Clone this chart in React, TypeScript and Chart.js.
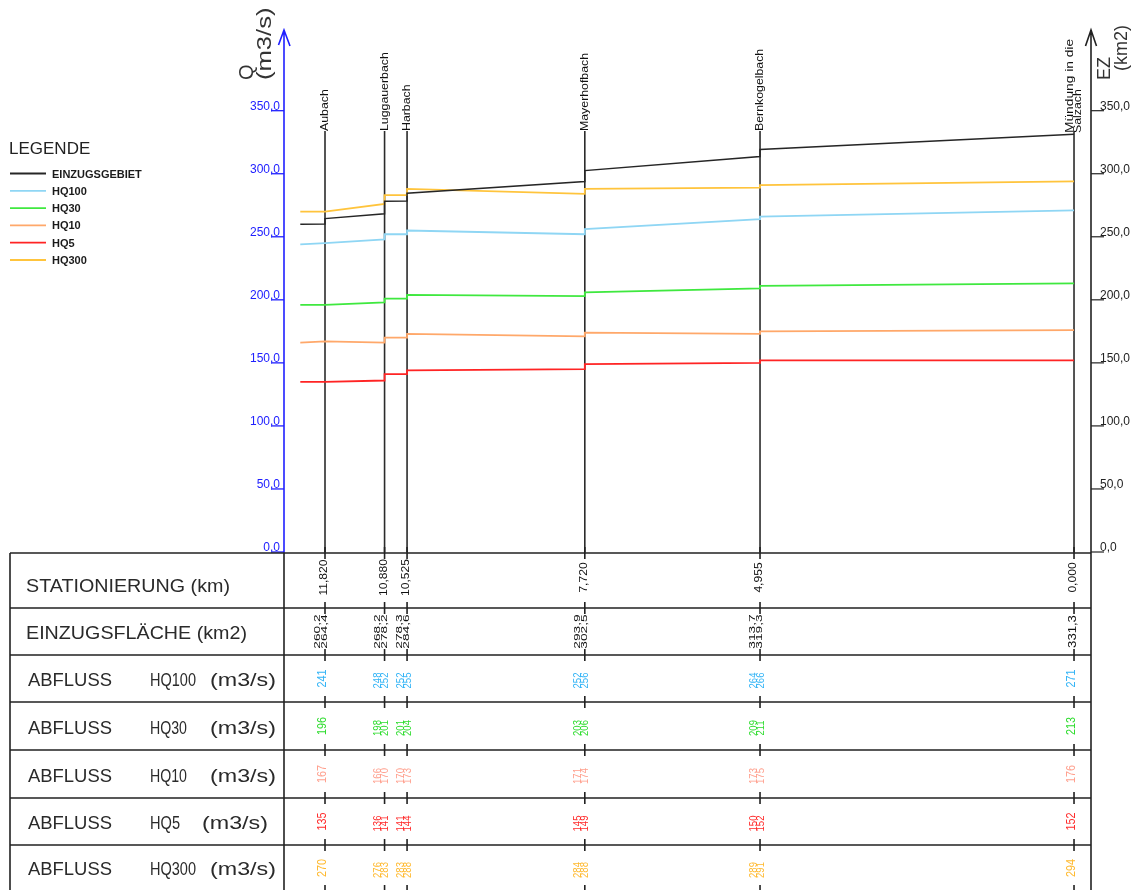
import React, { useEffect, useRef } from "react";
import { Chart, registerables } from "chart.js";

Chart.register(...registerables);

// ---------------- DATA ----------------
const stationNames: string[][] = [
  ["Aubach"],
  ["Luggauerbach"],
  ["Harbach"],
  ["Mayerhofbach"],
  ["Bernkogelbach"],
  ["Mündung in die", "Salzach"],
];
const stationKm = [11.82, 10.88, 10.525, 7.72, 4.955, 0.0];
const stationKmLabels = ["11,820", "10,880", "10,525", "7,720", "4,955", "0,000"];

const areaLabels: string[][] = [
  ["260,2", "264,4"], ["268,2", "278,2"], ["278,3", "284,6"],
  ["293,9", "302,5"], ["313,7", "319,3"], ["331,3"],
];
const hq100Labels: string[][] = [["241"], ["248", "252"], ["252", "255"], ["252", "256"], ["264", "266"], ["271"]];
const hq30Labels: string[][] = [["196"], ["198", "201"], ["201", "204"], ["203", "206"], ["209", "211"], ["213"]];
const hq10Labels: string[][] = [["167"], ["166", "170"], ["170", "173"], ["171", "174"], ["173", "175"], ["176"]];
const hq5Labels: string[][] = [["135"], ["136", "141"], ["141", "144"], ["145", "149"], ["150", "152"], ["152"]];
const hq300Labels: string[][] = [["270"], ["276", "283"], ["283", "288"], ["284", "288"], ["289", "291"], ["294"]];

// line vertices (km along river, reversed axis)
const pathKm = [12.21, 11.82, 11.82, 10.88, 10.88, 10.525, 10.525, 7.72, 7.72, 4.955, 4.955, 0.0];
const ezValues = [260.0, 260.2, 264.4, 268.2, 278.2, 278.3, 284.6, 293.9, 302.5, 313.7, 319.3, 331.3];
const hq100Values = [244, 245, 245, 248, 252, 252, 255, 252, 256, 264, 266, 271];
const hq30Values = [196, 196, 196, 198, 201, 201, 204, 203, 206, 209, 211, 213];
const hq10Values = [166, 167, 167, 166, 170, 170, 173, 171, 174, 173, 175, 176];
const hq5Values = [135, 135, 135, 136, 141, 141, 144, 145, 149, 150, 152, 152];
const hq300Values = [270, 270, 270, 276, 283, 283, 288, 284, 288, 289, 291, 294];

const seriesNames = ["EINZUGSGEBIET", "HQ100", "HQ30", "HQ10", "HQ5", "HQ300"];
const yTicks = [0, 50, 100, 150, 200, 250, 300, 350];

const rowTitles: string[][] = [
  ["STATIONIERUNG (km)"],
  ["EINZUGSFLÄCHE (km2)"],
  ["ABFLUSS", "HQ100", "(m3/s)"],
  ["ABFLUSS", "HQ30", "(m3/s)"],
  ["ABFLUSS", "HQ10", "(m3/s)"],
  ["ABFLUSS", "HQ5", "(m3/s)"],
  ["ABFLUSS", "HQ300", "(m3/s)"],
];
const leftTitle = ["Q", "(m3/s)"];
const rightTitle = ["EZ", "(km2)"];
const legendTitle = "LEGENDE";

// ---------------- STYLES ----------------
const lineColors = ["#262626", "#8fd6f4", "#3fe83f", "#ffa86a", "#ff2424", "#ffc43c"];
const labelColors = ["#111111", "#33b4f6", "#2edc2e", "#ffa08e", "#ff2a2a", "#ffb92e"];
const BLUE = "#2020ff";
const INK = "#222222";
const FONT = "'Liberation Sans', Arial, sans-serif";

function vText(ctx: CanvasRenderingContext2D, text: string, x: number, y: number, align: CanvasTextAlign, stretch: number) {
  ctx.save();
  ctx.translate(x, y);
  ctx.rotate(-Math.PI / 2);
  ctx.scale(stretch, 1);
  ctx.textAlign = align;
  ctx.textBaseline = "alphabetic";
  ctx.fillText(text, 0, 0);
  ctx.restore();
}

function fitText(ctx: CanvasRenderingContext2D, text: string, x: number, y: number, width: number, align: CanvasTextAlign = "left") {
  const w = ctx.measureText(text).width;
  ctx.save();
  ctx.translate(x, y);
  ctx.scale(width / w, 1);
  ctx.textAlign = align;
  ctx.fillText(text, 0, 0);
  ctx.restore();
}

const profilePlugin = {
  id: "profile",
  beforeDatasetsDraw(chart: any) {
    const ctx: CanvasRenderingContext2D = chart.ctx;
    const xs = chart.scales.x;
    const ys = chart.scales.y;
    ctx.save();
    ctx.strokeStyle = "#2b2b2b";
    ctx.lineWidth = 1.6;
    stationKm.forEach((km) => {
      const x = xs.getPixelForValue(km);
      ctx.beginPath();
      ctx.moveTo(x, 131);
      ctx.lineTo(x, ys.getPixelForValue(0));
      ctx.stroke();
    });
    ctx.restore();
  },
  afterDatasetsDraw(chart: any) {
    const ctx: CanvasRenderingContext2D = chart.ctx;
    const xs = chart.scales.x;
    const ys = chart.scales.y;
    const ys2 = chart.scales.y2;
    const area = chart.chartArea;
    const L = area.left;
    const R = area.right;
    ctx.save();

    // ---- left axis ----
    ctx.strokeStyle = BLUE;
    ctx.fillStyle = BLUE;
    ctx.lineWidth = 1.6;
    ctx.beginPath();
    ctx.moveTo(L, ys.getPixelForValue(0) + 1);
    ctx.lineTo(L, area.top);
    ctx.moveTo(L - 5.5, area.top + 15);
    ctx.lineTo(L, area.top);
    ctx.lineTo(L + 6, area.top + 16);
    ctx.stroke();
    ctx.font = `12px ${FONT}`;
    ctx.lineWidth = 1.3;
    yTicks.forEach((v) => {
      const y = ys.getPixelForValue(v);
      ctx.beginPath();
      ctx.moveTo(L - 13, y);
      ctx.lineTo(L, y);
      ctx.stroke();
      ctx.textAlign = "right";
      ctx.fillText(v.toFixed(1).replace(".", ","), L - 4, y - 1);
    });

    // ---- right axis ----
    ctx.strokeStyle = INK;
    ctx.fillStyle = INK;
    ctx.lineWidth = 1.6;
    ctx.beginPath();
    ctx.moveTo(R, chart.height);
    ctx.lineTo(R, area.top);
    ctx.moveTo(R - 5.5, area.top + 16);
    ctx.lineTo(R, area.top);
    ctx.lineTo(R + 5.5, area.top + 16);
    ctx.stroke();
    ctx.lineWidth = 1.2;
    yTicks.forEach((v) => {
      const y = ys2.getPixelForValue(v);
      ctx.beginPath();
      ctx.moveTo(R, y);
      ctx.lineTo(R + 13, y);
      ctx.stroke();
      ctx.textAlign = "left";
      ctx.fillText(v.toFixed(1).replace(".", ","), R + 9, y - 1);
    });

    // ---- axis titles ----
    ctx.fillStyle = "#333";
    ctx.font = `20px ${FONT}`;
    vText(ctx, leftTitle[0], L - 31, 80, "left", 1);
    vText(ctx, leftTitle[1], L - 13, 80, "left", 1.28);
    ctx.font = `18px ${FONT}`;
    vText(ctx, rightTitle[0], R + 19, 80, "left", 1);
    vText(ctx, rightTitle[1], R + 36, 71, "left", 1);

    // ---- station names ----
    ctx.fillStyle = "#111";
    ctx.font = `11px ${FONT}`;
    stationKm.forEach((km, i) => {
      const x = xs.getPixelForValue(km);
      const names = stationNames[i];
      if (names.length === 1) {
        vText(ctx, names[0], x + 3, 131, "left", 1.12);
      } else {
        vText(ctx, names[0], x - 1, 133, "left", 1.25);
        vText(ctx, names[1], x + 7, 133, "left", 1.12);
      }
    });

    // ---- legend ----
    ctx.fillStyle = "#222";
    ctx.font = `17px ${FONT}`;
    ctx.textAlign = "left";
    ctx.fillText(legendTitle, 9, 154);
    ctx.font = `bold 11px ${FONT}`;
    chart.data.datasets.forEach((ds: any, i: number) => {
      const y = 173.5 + i * 17.3;
      ctx.strokeStyle = ds.borderColor;
      ctx.lineWidth = 1.8;
      ctx.beginPath();
      ctx.moveTo(10, y);
      ctx.lineTo(46, y);
      ctx.stroke();
      ctx.fillStyle = "#1a1a1a";
      ctx.fillText(ds.label, 52, y + 4);
    });

    // ---- table ----
    const top = ys.getPixelForValue(0) + 1;
    const edges = [top, 608, 655, 702, 750, 798, 845, 891];
    ctx.strokeStyle = INK;
    ctx.lineWidth = 1.6;
    ctx.beginPath();
    for (let r = 0; r < edges.length - 1; r++) {
      ctx.moveTo(10, edges[r]);
      ctx.lineTo(R, edges[r]);
    }
    ctx.moveTo(10, top);
    ctx.lineTo(10, chart.height);
    ctx.moveTo(L, top);
    ctx.lineTo(L, chart.height);
    ctx.stroke();

    // ticks at station positions
    ctx.lineWidth = 1.6;
    ctx.beginPath();
    stationKm.forEach((km) => {
      const x = xs.getPixelForValue(km);
      edges.forEach((e) => {
        ctx.moveTo(x, e - 6);
        ctx.lineTo(x, e + 6);
      });
    });
    ctx.stroke();

    // row titles
    ctx.fillStyle = "#2a2a2a";
    ctx.font = `18px ${FONT}`;
    const partWidths: Record<string, number> = { ABFLUSS: 84, HQ100: 46, HQ300: 46, HQ30: 37, HQ10: 37, HQ5: 30, "(m3/s)": 66 };
    rowTitles.forEach((parts, r) => {
      const base = edges[r + 1] - 16;
      if (parts.length === 1) {
        fitText(ctx, parts[0], 26, base, r === 0 ? 204 : 221);
      } else {
        fitText(ctx, parts[0], 28, base, partWidths[parts[0]]);
        fitText(ctx, parts[1], 150, base, partWidths[parts[1]]);
        fitText(ctx, parts[2], parts[1] === "HQ5" ? 268 : 276, base, partWidths[parts[2]], "right");
      }
    });

    // row values
    const valueRows: string[][][] = [
      stationKmLabels.map((s) => [s]),
      areaLabels,
      hq100Labels,
      hq30Labels,
      hq10Labels,
      hq5Labels,
      hq300Labels,
    ];
    valueRows.forEach((row, r) => {
      const cy = (edges[r] + edges[r + 1]) / 2 + (r === 0 ? -3 : 0);
      ctx.fillStyle = r <= 1 ? "#111" : labelColors[r - 1];
      row.forEach((vals, i) => {
        const x = xs.getPixelForValue(stationKm[i]);
        if (vals.length === 1) {
          if (r === 0) {
            ctx.font = `10.5px ${FONT}`;
            vText(ctx, vals[0], x + 2, cy, "center", 1.15);
          } else if (r === 1) {
            ctx.font = `10.5px ${FONT}`;
            vText(ctx, vals[0], x + 2, cy, "center", 1.25);
          } else {
            ctx.font = `12px ${FONT}`;
            vText(ctx, vals[0], x + 1, cy, "center", 0.9);
          }
        } else {
          if (r === 1) {
            ctx.font = `9.5px ${FONT}`;
            vText(ctx, vals[0], x - 5, cy, "center", 1.45);
            vText(ctx, vals[1], x + 2, cy, "center", 1.45);
          } else {
            ctx.font = `10px ${FONT}`;
            vText(ctx, vals[0], x - 3.5, cy + 2, "center", 0.95);
            vText(ctx, vals[1], x + 3.5, cy + 2, "center", 0.95);
          }
        }
      });
    });

    ctx.restore();
  },
};

export default function App() {
  const ref = useRef<HTMLCanvasElement>(null);
  useEffect(() => {
    const canvas = ref.current;
    if (!canvas) return;
    const seriesValues = [ezValues, hq100Values, hq30Values, hq10Values, hq5Values, hq300Values];
    const datasets = seriesNames.map((name, i) => ({
      label: name,
      data: pathKm.map((km, j) => ({ x: km, y: seriesValues[i][j] })),
      borderColor: lineColors[i],
      backgroundColor: lineColors[i],
      borderWidth: i === 0 ? 1.5 : 1.8,
      pointRadius: 0,
      tension: 0,
      fill: false,
      yAxisID: i === 0 ? "y2" : "y",
    }));
    const chart = new Chart(canvas, {
      type: "line",
      data: { datasets },
      options: {
        responsive: false,
        animation: false,
        devicePixelRatio: 1,
        layout: { padding: { left: 284, right: 50, top: 30, bottom: 338 } },
        plugins: {
          legend: { display: false },
          tooltip: { enabled: false },
          title: { display: false },
        },
        scales: {
          x: { type: "linear", reverse: true, min: -0.268, max: 12.467, display: false },
          y: { type: "linear", min: 0, max: 414, display: false },
          y2: { type: "linear", min: 0, max: 414, display: false, position: "right" },
        },
      },
      plugins: [profilePlugin],
    } as any);
    return () => chart.destroy();
  }, []);
  return (
    <div style={{ position: "absolute", left: 0, top: 0, width: 1141, height: 890, background: "#fff" }}>
      <canvas ref={ref} width={1141} height={890} style={{ display: "block", width: 1141, height: 890 }} />
    </div>
  );
}
